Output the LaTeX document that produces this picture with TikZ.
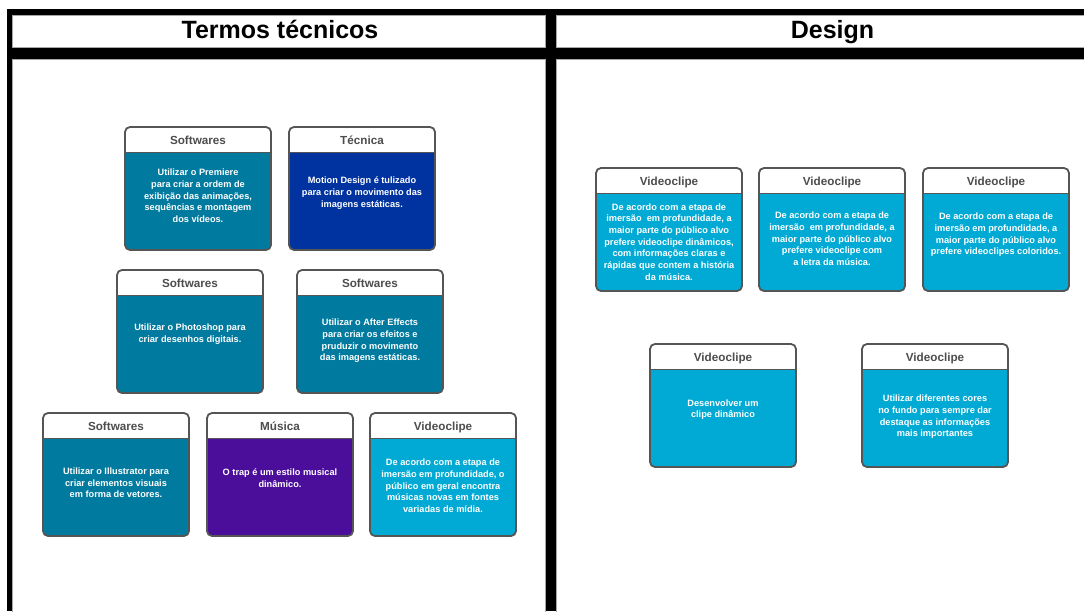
\documentclass[tikz,border=0pt]{standalone}
\usepackage{fontspec}
\setmainfont{Liberation Sans}
\definecolor{cteal}{RGB}{0,122,158}
\definecolor{cblue}{RGB}{0,51,160}
\definecolor{cpurple}{RGB}{75,14,154}
\definecolor{clight}{RGB}{0,170,212}
\definecolor{cborder}{RGB}{85,85,85}
\definecolor{chead}{RGB}{77,77,77}
\tikzset{
 panel/.style={fill=white, draw=gray!70, line width=0.6pt},
 titletext/.style={font=\fontsize{25}{30}\selectfont\bfseries, text=black, inner sep=0, anchor=base},
 cardframe/.style={draw=cborder, line width=1.8pt, rounded corners=5pt, minimum width=146pt, minimum height=123pt, inner sep=0},
 cardhead/.style={font=\fontsize{11.7}{14}\selectfont\bfseries, text=chead, inner sep=0, anchor=base},
 cardbody/.style={font=\fontsize{9.2}{11.7}\selectfont\bfseries, text=white, align=center, inner sep=0},
 sepline/.style={draw=cborder, line width=1pt}
}
% #1 name, #2 x, #3 y, #4 colour, #5 header, #6 body, #7 body centre offset
\newcommand\mycard[7]{%
 \begin{scope}
  \clip[rounded corners=5pt] (#2,#3) rectangle ++(146,123);
  \fill[#4] (#2,#3) rectangle ++(146,123);
  \fill[white] (#2,#3) rectangle ++(146,25);
 \end{scope}
 \draw[sepline] (#2,#3+25) -- ++(146,0);
 \node[cardframe] (#1) at (#2+73,#3+61.5) {};
 \node[cardhead] (#1h) at (#2+73,#3+17) {#5};
 \node[cardbody] (#1b) at (#2+73,#3+#7) {#6};
}
\begin{document}
\begin{tikzpicture}[x=1pt,y=-1pt]
\useasboundingbox (0,0) rectangle (1084,611);
\fill[white] (0,0) rectangle (1084,611);
% frame
\fill[black] (7,9) rectangle (1084,611);
\path[panel] (12.5,15) rectangle (545,47);
\path[panel] (556,15) rectangle (1090,47);
\path[panel] (12.5,59) rectangle (545,620);
\path[panel] (556,59) rectangle (1090,620);
\node[titletext] (t1) at (280,38.5) {Termos técnicos};
\node[titletext] (t2) at (832.5,38.5) {Design};
% left cards
\mycard{c1}{125}{127}{cteal}{Softwares}{Utilizar o Premiere\\para criar a ordem de\\exibição das animações,\\sequências e montagem\\dos vídeos.}{69}
\mycard{c2}{289}{127}{cblue}{Técnica}{Motion Design é tulizado\\para criar o movimento das\\imagens estáticas.}{66}
\mycard{c3}{117}{270}{cteal}{Softwares}{Utilizar o Photoshop para\\criar desenhos digitais.}{64}
\mycard{c4}{297}{270}{cteal}{Softwares}{Utilizar o After Effects\\para criar os efeitos e\\pruduzir o movimento\\das imagens estáticas.}{71}
\mycard{c5}{43}{413}{cteal}{Softwares}{Utilizar o Illustrator para\\criar elementos visuais\\em forma de vetores.}{70}
\mycard{c6}{207}{413}{cpurple}{Música}{O trap é um estilo musical\\dinâmico.}{65}
\mycard{c7}{370}{413}{clight}{Videoclipe}{De acordo com a etapa de\\imersão em profundidade, o\\público em geral encontra\\músicas novas em fontes\\variadas de mídia.}{73}
% right cards
\mycard{d1}{596}{168}{clight}{Videoclipe}{De acordo com a etapa de\\imersão\ \ em profundidade, a\\maior parte do público alvo\\prefere videoclipe dinâmicos,\\com informações claras e\\rápidas que contem a história\\da música.}{74}
\mycard{d2}{759}{168}{clight}{Videoclipe}{De acordo com a etapa de\\imersão\ \ em profundidade, a\\maior parte do público alvo\\prefere videoclipe com\\a letra da música.}{71}
\mycard{d3}{923}{168}{clight}{Videoclipe}{De acordo com a etapa de\\imersão em profundidade, a\\maior parte do público alvo\\prefere videoclipes coloridos.}{67}
\mycard{d4}{650}{344}{clight}{Videoclipe}{Desenvolver um\\clipe dinâmico}{65.5}
\mycard{d5}{862}{344}{clight}{Videoclipe}{Utilizar diferentes cores\\no fundo para sempre dar\\destaque as informações\\mais importantes}{73}
\end{tikzpicture}
\end{document}
